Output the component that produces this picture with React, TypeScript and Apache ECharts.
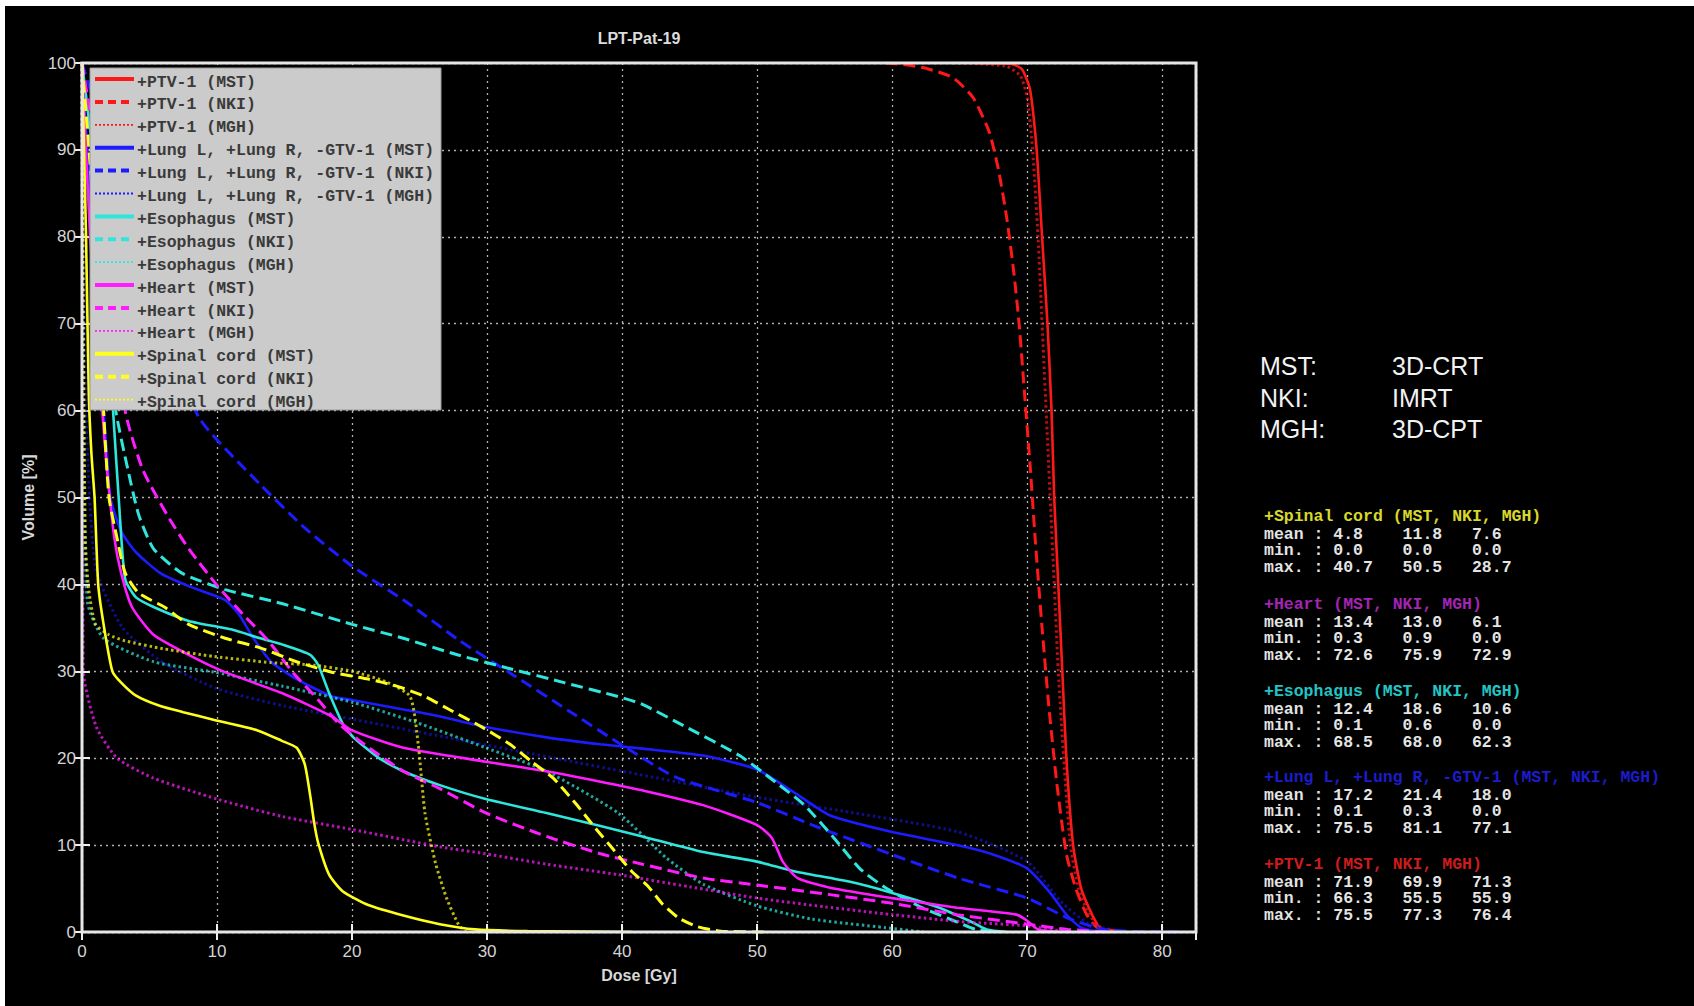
import React, { useEffect, useRef } from "react";
import * as echarts from "echarts";

type Pt = [number, number];

// ---------- data ----------
const structureNames = ["+PTV-1", "+Lung L, +Lung R, -GTV-1", "+Esophagus", "+Heart", "+Spinal cord"];
const centreNames = ["MST", "NKI", "MGH"];
const structureColors = ["#ff1818", "#1c1cff", "#2ee6dc", "#ff1cff", "#ffff1c"];

const ptvMst: Pt[] = [[66.3, 100], [68.8, 99.9], [69.6, 99.3], [70.2, 97], [70.7, 90], [71.1, 80], [71.5, 70], [71.8, 60], [72.0, 50], [72.3, 40], [72.6, 30], [72.9, 20], [73.4, 10], [74.0, 5], [74.8, 2], [75.5, 0]];
const ptvNki: Pt[] = [[59.5, 100], [61, 99.8], [62.5, 99.4], [64.5, 98.3], [66, 96], [67.2, 92], [67.9, 87.5], [68.5, 82], [69.0, 76], [69.4, 70], [69.8, 62], [70.2, 54], [70.6, 45], [71.1, 35], [71.6, 26], [72.2, 17], [72.9, 9], [73.6, 5], [74.4, 2], [75.2, 0.5], [77.3, 0]];
const ptvMgh: Pt[] = [[64.5, 100], [66.5, 99.9], [68.5, 99.6], [69.5, 98.5], [70.0, 96], [70.4, 90], [70.8, 80], [71.1, 70], [71.4, 60], [71.7, 50], [72.0, 40], [72.3, 30], [72.7, 20], [73.2, 10], [73.8, 5], [74.6, 2], [75.6, 0.3], [76.4, 0]];

const lungMst: Pt[] = [[0, 100], [0.8, 80], [1.5, 62], [1.85, 55], [2.1, 50], [2.9, 46.1], [4.0, 43.7], [5.8, 41.3], [7.9, 39.8], [10.6, 38.2], [11.6, 36.6], [12.7, 33.8], [14.0, 31.1], [15.9, 29.1], [18.5, 27.1], [20, 26.7], [23.8, 25.6], [26.5, 24.8], [29.9, 23.6], [34.4, 22.4], [38.4, 21.6], [41.5, 21.1], [46, 20.3], [50, 18.7], [52.7, 16.1], [55.4, 13.4], [60, 11.5], [64.8, 10], [67.5, 8.9], [70, 7.3], [71.6, 4.7], [72.9, 2.0], [74, 0.5], [75.5, 0]];
const lungNki: Pt[] = [[0, 100], [3, 85], [6, 70], [8.7, 59.1], [13.2, 51.5], [16.5, 46.5], [20, 42.1], [24, 38], [28, 33.5], [32, 29.5], [36, 25.5], [40, 21.5], [44, 17.8], [50, 14.9], [54.1, 12.3], [60, 8.9], [64.9, 6.2], [70, 3.9], [73, 1.6], [75.6, 0.3], [78, 0.05], [81.1, 0]];
const lungMgh: Pt[] = [[0, 100], [0.3, 60], [1, 42], [3, 35], [6, 31], [10, 28], [15, 26], [20, 24.5], [25, 23], [30, 21.5], [35, 20], [40, 18.5], [45, 17], [50, 15.5], [56.8, 13.8], [64.9, 11.5], [70, 8.1], [72.5, 3.5], [74.5, 1], [77.1, 0]];

const esoMst: Pt[] = [[0, 100], [1.5, 80], [2.3, 60], [2.8, 48], [3.2, 40.6], [4.0, 38.5], [5.3, 37.4], [7.9, 35.8], [11.1, 34.8], [13.2, 33.8], [14.8, 33.1], [16.9, 31.9], [17.5, 30.7], [18.3, 27.5], [19.3, 24.0], [20.1, 22.4], [22.0, 20.0], [23.8, 18.5], [26.5, 16.9], [29.9, 15.3], [34.4, 13.7], [38.4, 12.2], [41.5, 11.0], [46.0, 9.2], [50, 8.1], [52.7, 7.0], [56.8, 5.8], [60, 4.5], [63.5, 2.8], [65.7, 1.3], [67, 0.3], [68.5, 0]];
const esoNki: Pt[] = [[0, 100], [1.4, 80], [2.0, 68], [2.5, 60], [3.4, 53.2], [4.2, 48], [5.3, 44.1], [7.4, 41.3], [10.6, 39.4], [14.8, 37.8], [20, 35.4], [23.8, 33.8], [27.8, 31.9], [31.7, 30.3], [35.7, 28.7], [39.7, 27.1], [41.5, 26.2], [44.6, 23.7], [48.7, 20.3], [51.4, 17.2], [53.5, 14.6], [55.7, 10.8], [57.6, 7.3], [59.5, 5.1], [62.2, 2.8], [64.9, 1.1], [66.2, 0.3], [68, 0]];
const esoMgh: Pt[] = [[0, 100], [0.1, 60], [0.4, 38], [1.6, 33.8], [5.3, 31.1], [9.8, 29.9], [14.8, 28.3], [20.1, 26.4], [24.6, 24.2], [29.9, 21.2], [34.4, 18.5], [39.7, 13.7], [43.3, 8.5], [46, 5.5], [50, 3], [54, 1.5], [59.5, 0.5], [62.3, 0]];

const heartMst: Pt[] = [[0, 100], [0.6, 80], [1.5, 60], [1.85, 53.2], [2.4, 45.3], [2.9, 41.3], [3.7, 37.4], [5.3, 34.2], [7.9, 31.9], [10.6, 29.9], [14.8, 27.5], [18.5, 24.8], [20, 23.2], [23.8, 21.2], [29.9, 19.6], [34.4, 18.5], [38.4, 17.3], [41.5, 16.3], [46, 14.6], [50, 12.3], [51.1, 10.8], [51.9, 8.1], [53, 6.2], [55.4, 5.1], [60, 3.9], [64.8, 2.8], [69.2, 2.0], [70, 1.3], [70.8, 0.3], [72.6, 0]];
const heartNki: Pt[] = [[0, 100], [2.0, 80], [3.2, 60], [4.5, 53.2], [6.3, 48], [7.9, 44.1], [10.05, 39.8], [11.9, 36.6], [13.8, 33.5], [15.6, 29.9], [17.5, 26.7], [19.0, 24], [20.9, 21.6], [23.8, 18.5], [26.5, 16.5], [29.9, 13.7], [34.4, 11], [38.4, 9.0], [41.5, 7.8], [46, 6.2], [50, 5.4], [55.4, 4.3], [60, 3.3], [64.8, 2.0], [70, 0.9], [73, 0.3], [75.9, 0]];
const heartMgh: Pt[] = [[0, 100], [0.05, 60], [0.1, 30], [1.06, 23.6], [2.6, 20], [5.3, 17.7], [10, 15.3], [14.8, 13.3], [20, 11.8], [26.5, 9.8], [29.9, 9.0], [34.4, 7.8], [39.7, 6.6], [45, 5.2], [50, 3.9], [55, 2.9], [60, 2.0], [65, 1.2], [70, 0.7], [72.9, 0]];

const spinalMst: Pt[] = [[0, 100], [0.3, 80], [0.5, 62], [0.7, 55], [0.93, 50], [1.2, 40], [1.6, 35.4], [2.25, 30], [2.9, 28.7], [4.0, 27.2], [5.8, 26], [7.5, 25.3], [9.8, 24.4], [13, 23.2], [14.8, 22], [15.9, 21.2], [16.5, 19.3], [16.9, 15.7], [17.2, 12.5], [17.5, 10.2], [18.3, 6.6], [19.3, 4.7], [21.2, 3.1], [23.8, 1.9], [26.5, 0.9], [29.1, 0.3], [33, 0.1], [40.7, 0]];
const spinalNki: Pt[] = [[0, 100], [1.0, 80], [1.6, 60], [2.0, 50], [2.6, 45.3], [3.2, 41.3], [4.2, 39], [6.1, 37.4], [7.9, 35.4], [10.6, 33.8], [13.2, 32.7], [15.9, 31.1], [18.5, 29.9], [21.2, 29.1], [23.3, 28.3], [25.4, 27.1], [27.2, 25.6], [29.6, 23.6], [31.7, 21.6], [33.3, 19.6], [34.9, 17.7], [36.5, 14.9], [38.1, 11.8], [39.4, 9.4], [40.7, 7.0], [41.9, 5.3], [43.0, 3.2], [44.2, 1.6], [45.6, 0.6], [47.3, 0.1], [50.5, 0]];
const spinalMgh: Pt[] = [[0, 100], [0.1, 70], [0.25, 45], [0.5, 39.4], [1.0, 35.4], [2.0, 34.2], [3.2, 33.5], [6, 32.6], [9.8, 31.7], [14, 31], [17.2, 30.7], [20, 30], [22.5, 28.8], [24.3, 27.1], [24.9, 21.6], [25.4, 13.7], [26.2, 7.8], [27.0, 3.9], [27.8, 1.1], [28.3, 0.1], [28.7, 0]];

const curves: Pt[][][] = [
  [ptvMst, ptvNki, ptvMgh],
  [lungMst, lungNki, lungMgh],
  [esoMst, esoNki, esoMgh],
  [heartMst, heartNki, heartMgh],
  [spinalMst, spinalNki, spinalMgh],
];

const statHeaders = ["+Spinal cord", "+Heart", "+Esophagus", "+Lung L, +Lung R, -GTV-1", "+PTV-1"];
const statHeaderColors = ["#d8d82a", "#a424b4", "#22c4c4", "#1c1ccc", "#cc1c1c"];
const statRowLabels = ["mean :", "min. :", "max. :"];
const spinalStats = [[4.8, 11.8, 7.6], [0.0, 0.0, 0.0], [40.7, 50.5, 28.7]];
const heartStats = [[13.4, 13.0, 6.1], [0.3, 0.9, 0.0], [72.6, 75.9, 72.9]];
const esophagusStats = [[12.4, 18.6, 10.6], [0.1, 0.6, 0.0], [68.5, 68.0, 62.3]];
const lungStats = [[17.2, 21.4, 18.0], [0.1, 0.3, 0.0], [75.5, 81.1, 77.1]];
const ptvStats = [[71.9, 69.9, 71.3], [66.3, 55.5, 55.9], [75.5, 77.3, 76.4]];
const allStats = [spinalStats, heartStats, esophagusStats, lungStats, ptvStats];

const techniques = [["MST:", "3D-CRT"], ["NKI:", "IMRT"], ["MGH:", "3D-CPT"]];
const chartTitle = "LPT-Pat-19";
const xName = "Dose [Gy]";
const yName = "Volume [%]";

// ---------- layout ----------
const W = 1694;
const H = 1006;
const G_L = 82, G_T = 63, G_R = 498, G_B = 74;
const X_MAX = 82.5;
const MONO = "'Liberation Mono', 'DejaVu Sans Mono', monospace";
const SANS = "'Liberation Sans', Arial, sans-serif";

const lineTypes: any[] = ["solid", [12, 6], [2.5, 3]];
const lineWidths = [2.6, 3, 3];
const lineOpac = [1, 1, 0.72];

function txt(text: string, x: number, y: number, fill: string, fontSize: number, fontFamily: string, fontWeight: string = "normal", align: string = "left") {
  return {
    type: "text",
    x,
    y,
    z: 100,
    silent: true,
    style: {
      text,
      fill,
      fontSize,
      fontFamily,
      fontWeight,
      textAlign: align,
      textVerticalAlign: "middle",
      verticalAlign: "middle",
    },
  };
}

function fmtRow(label: string, vals: number[]) {
  return label + " " + vals.map((v, i) => (i < vals.length - 1 ? v.toFixed(1).padEnd(7) : v.toFixed(1))).join("");
}

export default function App() {
  const ref = useRef<HTMLDivElement>(null);

  useEffect(() => {
    document.body.style.margin = "0";
    document.body.style.background = "#ffffff";
    if (!ref.current) return;
    const chart = echarts.init(ref.current, undefined, { renderer: "svg" });

    const series: any[] = [];
    curves.forEach((group, si) => {
      group.forEach((data, ci) => {
        series.push({
          type: "line",
          name: structureNames[si] + " (" + centreNames[ci] + ")",
          data,
          xAxisIndex: 0,
          yAxisIndex: 0,
          showSymbol: false,
          symbol: "none",
          smooth: 0.2,
          animation: false,
          lineStyle: {
            color: structureColors[si],
            width: lineWidths[ci],
            type: lineTypes[ci],
            opacity: si === 1 && ci === 2 ? 0.55 : lineOpac[ci],
          },
          z: 2,
        });
      });
    });

    const graphics: any[] = [];
    // page background
    graphics.push({ type: "rect", silent: true, z: -100, shape: { x: 5, y: 6, width: W - 5, height: H - 6 }, style: { fill: "#000000" } });
    // frame
    graphics.push({ type: "rect", silent: true, z: 50, shape: { x: G_L, y: G_T, width: W - G_L - G_R, height: H - G_T - G_B }, style: { fill: "none", stroke: "#e6e6e6", lineWidth: 3 } });
    // legend box
    const LX = 90, LY = 68, LW = 351, LH = 342;
    graphics.push({ type: "rect", silent: true, z: 90, shape: { x: LX, y: LY, width: LW, height: LH }, style: { fill: "#cbcbcb", stroke: "#9a9a9a", lineWidth: 1 } });
    const sampleDash: any[] = [null, [8, 5], [2, 2]];
    const sampleW = [4, 4, 1.8];
    let row = 0;
    structureNames.forEach((sn, si) => {
      centreNames.forEach((cn, ci) => {
        const y = 82 + row * 22.9;
        graphics.push({
          type: "line",
          silent: true,
          z: 95,
          shape: { x1: 95, y1: y - 3, x2: 134, y2: y - 3 },
          style: { stroke: structureColors[si], lineWidth: sampleW[ci], lineDash: sampleDash[ci] || undefined },
        });
        graphics.push(txt(sn + " (" + cn + ")", 137, y, "#3a3a3a", 16.5, MONO, "bold"));
        row++;
      });
    });
    // title
    graphics.push(txt(chartTitle, (G_L + W - G_R) / 2, 38, "#dcdcdc", 16, SANS, "bold", "center"));
    // technique text
    techniques.forEach((t, i) => {
      const y = 366 + i * 31.5;
      graphics.push(txt(t[0], 1260, y, "#f2f2f2", 25, SANS));
      graphics.push(txt(t[1], 1392, y, "#f2f2f2", 25, SANS));
    });
    // stats blocks
    const headerY = [516, 604, 691, 777, 864];
    const rowOff = [18, 34.5, 51];
    statHeaders.forEach((h, i) => {
      graphics.push(txt(h + " (" + centreNames.join(", ") + ")", 1264, headerY[i], statHeaderColors[i], 16.5, MONO, "bold"));
      statRowLabels.forEach((lab, r) => {
        graphics.push(txt(fmtRow(lab, allStats[i][r]), 1264, headerY[i] + rowOff[r], "#e4e4e4", 16.5, MONO, "bold"));
      });
    });

    const tickStyle = { show: true, inside: true, length: 8, lineStyle: { color: "#eeeeee", width: 2 } };
    const splitStyle = { show: true, lineStyle: { color: "#b0b0b0", width: 1.3, type: [2, 4] } };
    const labelStyle = { color: "#d4d4d4", fontSize: 17, fontFamily: SANS };
    const nameStyle = { color: "#d8d8d8", fontSize: 16, fontFamily: SANS, fontWeight: "bold" };

    chart.setOption({
      animation: false,
      backgroundColor: "transparent",
      grid: { left: G_L, top: G_T, right: G_R, bottom: G_B, show: false },
      xAxis: [
        {
          type: "value",
          min: 0,
          max: X_MAX,
          interval: 10,
          position: "bottom",
          axisLine: { show: false },
          axisTick: tickStyle,
          splitLine: splitStyle,
          axisLabel: { ...labelStyle, margin: 11, formatter: (v: number) => (v % 10 === 0 ? String(v) : "") },
          name: xName,
          nameLocation: "middle",
          nameGap: 35,
          nameTextStyle: nameStyle,
        },
        {
          type: "value",
          min: 0,
          max: X_MAX,
          interval: 10,
          position: "top",
          axisLine: { show: false },
          axisTick: tickStyle,
          splitLine: { show: false },
          axisLabel: { show: false },
        },
      ],
      yAxis: [
        {
          type: "value",
          min: 0,
          max: 100,
          interval: 10,
          position: "left",
          axisLine: { show: false },
          axisTick: tickStyle,
          splitLine: splitStyle,
          axisLabel: { ...labelStyle, margin: 6 },
          name: yName,
          nameLocation: "middle",
          nameGap: 44,
          nameTextStyle: nameStyle,
        },
        {
          type: "value",
          min: 0,
          max: 100,
          interval: 10,
          position: "right",
          axisLine: { show: false },
          axisTick: tickStyle,
          splitLine: { show: false },
          axisLabel: { show: false },
        },
      ],
      series,
      graphic: { elements: graphics },
    });

    return () => {
      chart.dispose();
    };
  }, []);

  return <div ref={ref} style={{ width: W, height: H }} />;
}
